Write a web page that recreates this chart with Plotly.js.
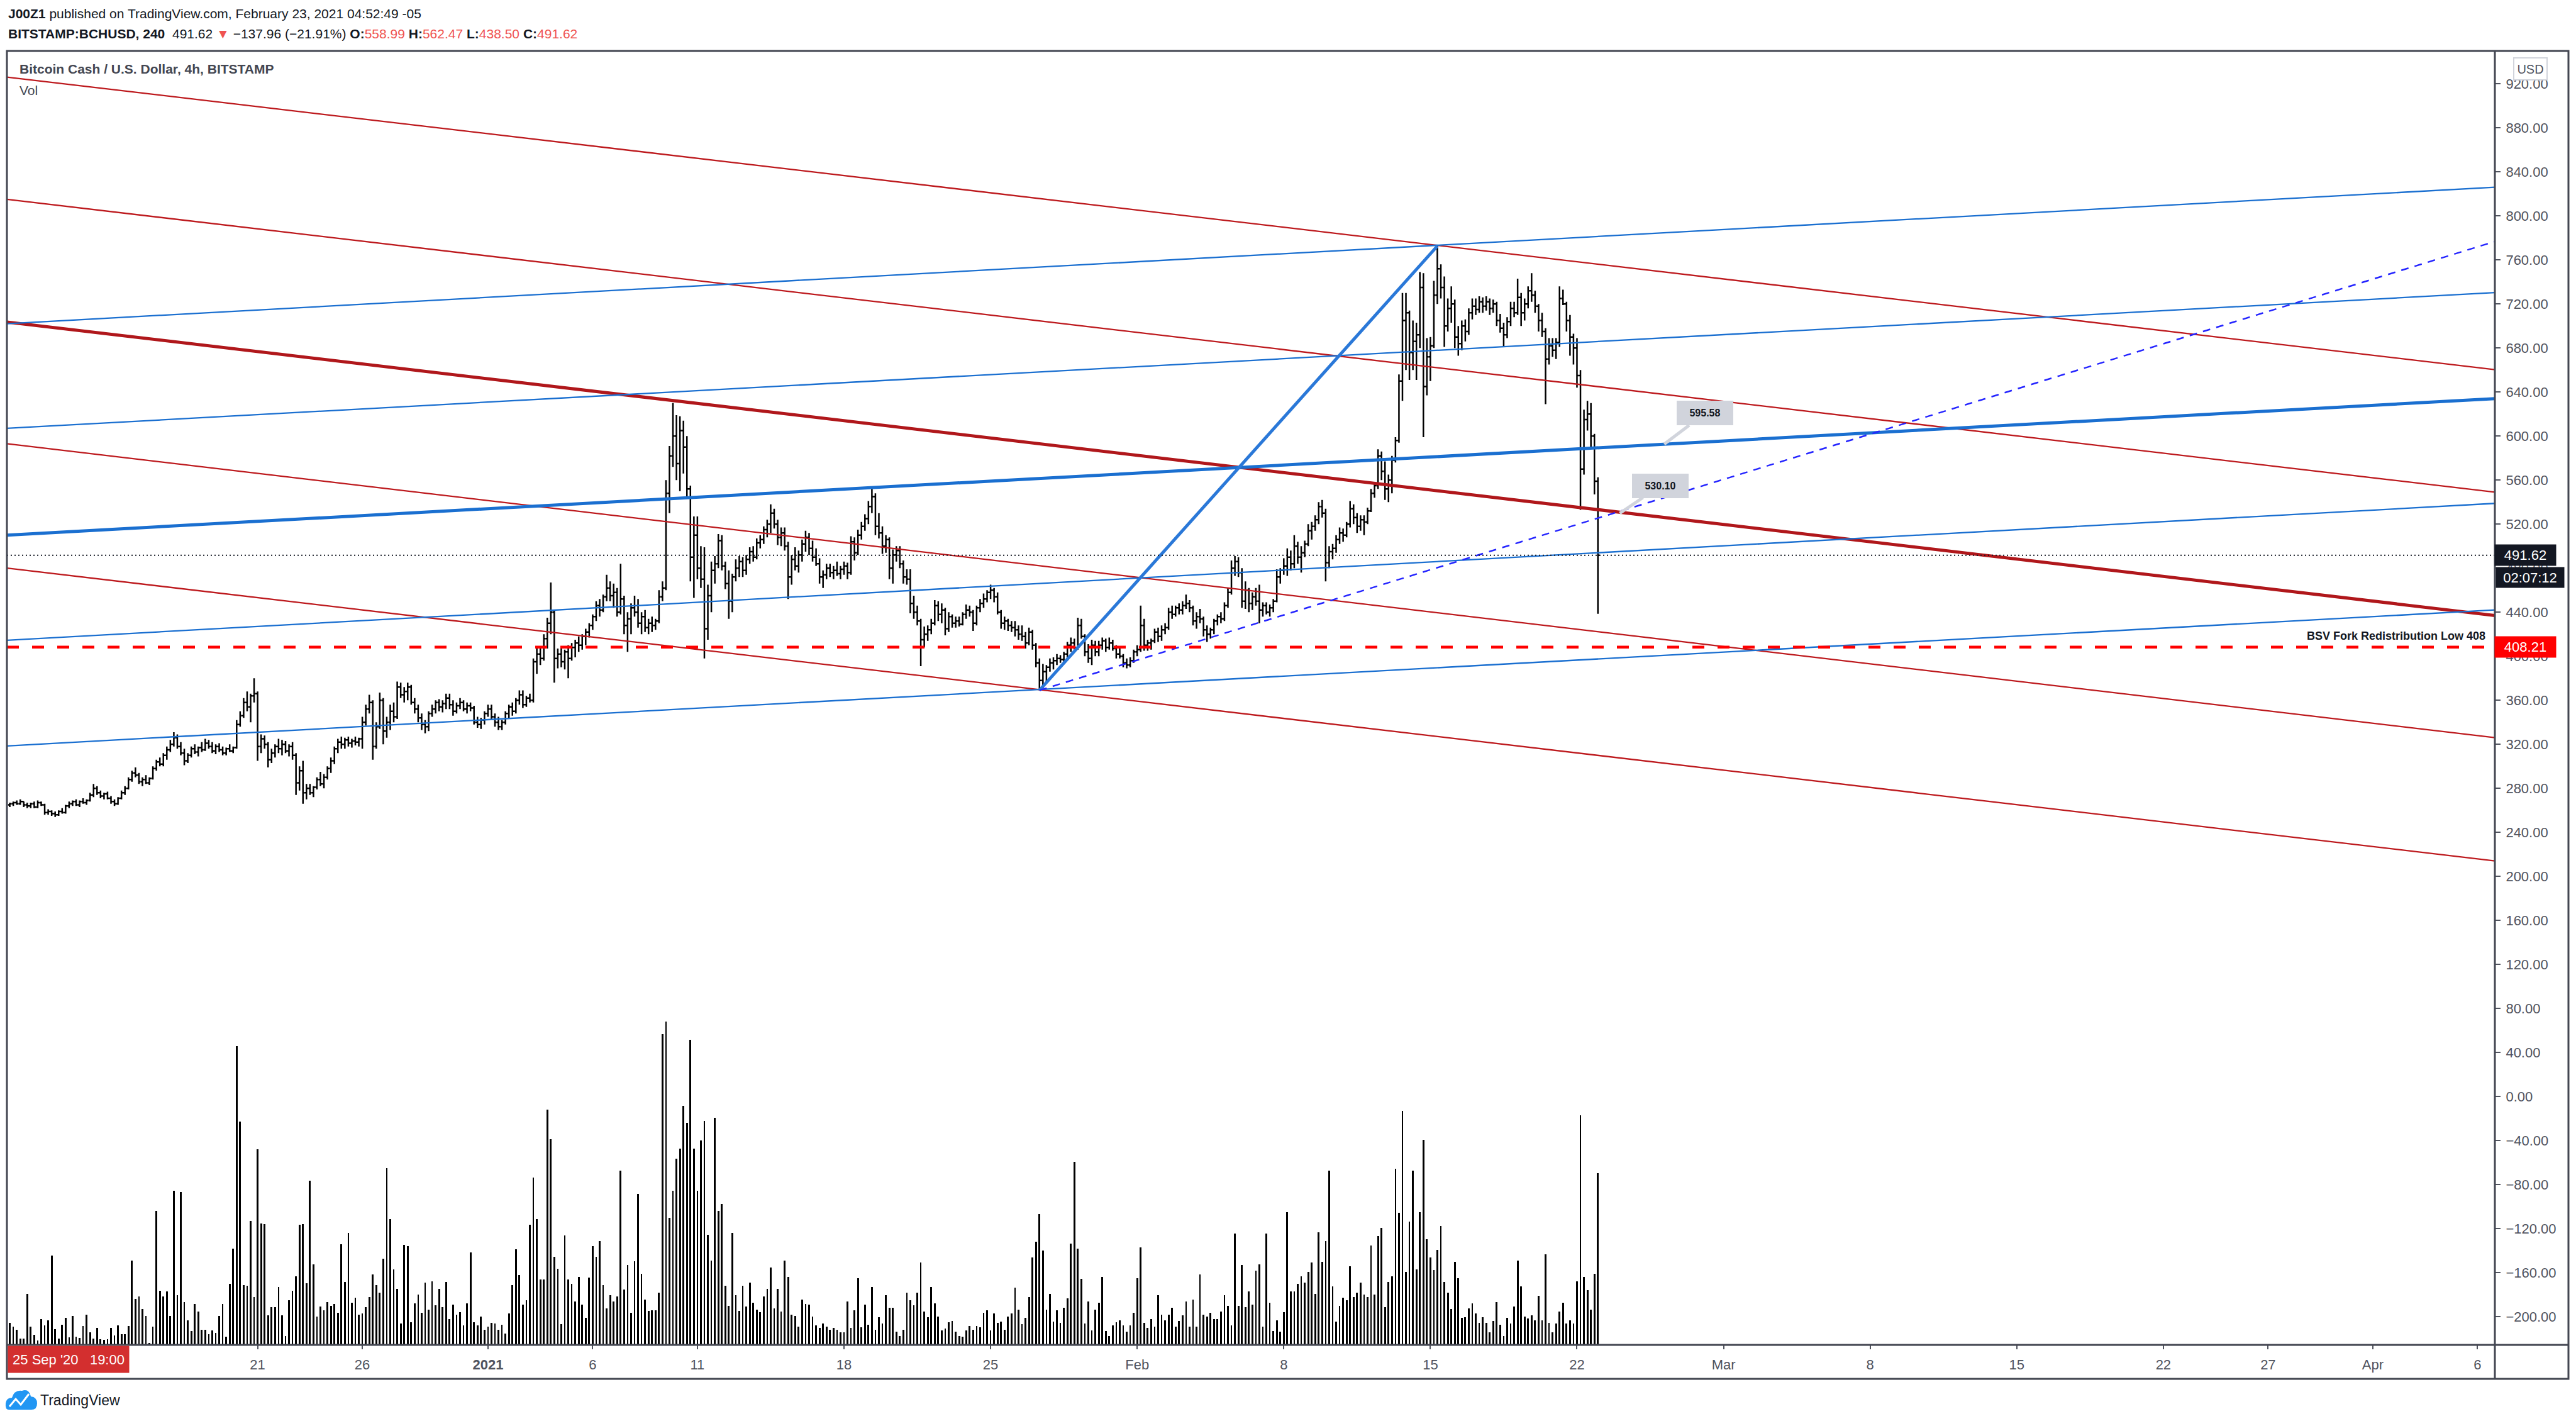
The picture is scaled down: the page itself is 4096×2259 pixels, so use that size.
<!DOCTYPE html>
<html><head><meta charset="utf-8">
<script src="https://cdn.plot.ly/plotly-3.0.1.min.js"></script>
<style>html,body{margin:0;padding:0;background:#fff;}#chart{width:4096px;height:2259px;}</style>
</head><body><div id="chart"></div>
<script>
// ---------- DATA ----------
const BAR_START = '2020-12-09T04:00:00Z';
const BAR_HOURS = 4;

const OPEN = [
265,266,267,266,268,265, 264,266,263,267,265,258, 259,257,256,259,258,264, 266,268,265,268,267,269,
274,280,276,273,275,271, 268,266,271,276,280,288, 294,292,286,288,285,289, 298,304,302,310,315,320,
326,318,312,305,310,316, 313,317,315,321,318,314, 318,315,312,316,314,317, 338,346,358,354,364,366,
318,325,320,306,312,318, 316,320,314,318,310,285, 296,276,280,276,281,288, 284,290,298,305,316,322,
320,324,321,323,322,325, 340,352,358,318,336,360, 332,340,350,345,372,365, 368,372,358,352,344,338,
336,348,352,358,354,357, 362,356,350,355,358,352, 355,353,340,338,342,348, 352,345,340,336,340,348,
354,350,360,365,356,362, 360,395,402,398,416,430, 440,398,402,395,404,398, 408,412,410,418,422,428,
436,446,442,454,462,455, 458,440,452,428,434,444, 440,430,436,426,430,428, 432,454,462,548,582,600,
575,605,590,552,490,510, 480,470,425,455,478,484, 505,482,466,450,472,480, 486,478,488,495,490,503,
506,515,520,530,520,508, 512,500,472,488,482,492, 502,508,498,490,484,472, 474,480,476,478,475,479,
482,476,504,494,510,518, 525,536,545,518,512,500, 506,480,492,496,484,472, 470,448,440,432,415,420,
424,430,446,438,442,425, 436,430,432,429,438,442, 440,430,444,448,452,458, 460,454,440,430,432,428,
426,424,420,418,412,422, 410,394,378,386,390,394, 396,398,397,402,410,412, 408,428,418,404,398,410,
404,410,414,408,412,407, 402,400,394,392,396,404, 406,428,410,412,414,422, 418,424,426,440,438,444,
442,446,448,444,432,436, 434,424,420,424,432,436, 434,446,458,480,486,476, 450,460,448,454,450,442,
446,440,444,450,472,478, 482,490,484,500,490,494, 502,514,518,524,536,530, 485,495,498,506,512,510,
520,534,526,518,524,522, 532,548,555,582,568,552, 560,578,596,650,705,712, 676,686,692,735,645,672,
682,728,752,735,700,716, 720,690,684,700,695,712, 718,715,722,718,722,716, 720,705,698,692,704,716,
712,726,712,720,732,728, 718,705,695,670,682,678, 685,725,720,705,690,680, 655,570,615,620,600,558.99
];
const HIGH = [
267,268,269,270,268,267, 267,268,269,268,266,261, 260,259,260,262,265,268, 269,270,269,271,270,276,
284,282,278,276,277,273, 270,272,278,282,290,296, 299,294,290,292,290,300, 306,308,312,318,324,331,
329,322,316,312,318,320, 318,322,325,324,322,320, 321,318,317,320,318,342, 350,362,368,366,380,368,
329,328,322,316,320,325, 324,323,320,322,312,300, 305,284,284,282,290,295, 293,300,308,318,325,327,
326,327,325,327,326,345, 356,365,360,340,367,362, 345,356,358,377,376,372, 376,374,362,356,348,342,
350,356,360,361,360,366, 366,360,358,362,360,358, 358,355,345,344,350,356, 356,348,345,342,350,356,
358,362,369,369,364,366, 398,407,409,420,435,467, 442,407,408,406,410,412, 415,418,420,425,430,438,
450,452,456,474,468,466, 462,484,455,440,448,455, 452,440,442,434,436,434, 460,468,560,591,630,619,
618,614,600,555,527,527, 500,499,465,486,491,511, 510,486,478,475,488,491, 490,492,499,500,507,510,
518,524,538,534,524,517, 517,504,492,499,496,506, 514,512,505,498,489,478, 484,484,482,486,482,486,
485,509,508,515,522,529, 541,552,548,530,518,510, 508,497,500,500,487,479, 479,455,446,434,427,428,
434,451,450,448,444,440, 438,436,436,440,447,446, 442,446,452,457,460,465, 462,458,442,436,434,432,
432,428,428,422,426,424, 412,398,393,392,398,399, 402,401,404,413,417,416, 435,434,420,411,415,414,
414,417,416,417,415,410, 408,402,398,399,406,410, 446,434,415,416,425,426, 428,430,444,446,446,448,
450,456,451,446,440,443, 436,428,426,434,438,440, 449,462,487,491,490,480, 468,462,458,462,465,449,
449,447,452,479,480,489, 498,496,510,504,500,505, 520,522,528,540,542,534, 500,502,510,517,516,522,
541,538,530,528,528,535, 552,558,588,586,577,565, 582,599,656,730,730,714, 705,703,749,748,689,690,
741,772.6,756,745,725,736, 724,700,705,706,716,725, 725,727,726,727,725,724, 722,711,703,708,722,722,
743,730,725,736,748,732, 720,712,698,689,689,689, 736,733,722,710,693,689, 660,624,632,630,602,562.47
];
const LOW = [
263,264,265,265,263,262, 262,262,262,264,256,256, 255,254,255,257,257,262, 264,264,263,266,265,268,
272,274,271,270,270,266, 264,265,270,274,279,286, 290,284,282,284,283,288, 296,300,300,306,313,318,
316,310,301,303,308,311, 309,313,314,316,312,311, 313,310,310,313,312,316, 336,344,350,340,358,305,
312,316,299,303,308,312, 310,312,309,306,274,278, 266,270,274,272,279,282, 280,288,294,302,312,316,
316,318,317,319,318,316, 337,348,306,316,334,320, 326,333,340,343,362,358, 360,356,348,340,333,330,
332,345,348,350,349,352, 352,346,348,352,350,348, 350,338,335,334,338,345, 342,336,333,333,338,344,
346,348,356,353,354,358, 358,384,392,396,407,420, 376,389,390,388,380,396, 399,404,406,410,417,424,
432,436,440,450,450,444, 436,438,420,404,420,436, 426,420,422,420,422,424, 430,450,460,530,572,560,
550,566,545,468,453,470, 462,398,415,440,466,480, 478,461,434,440,468,472, 472,474,484,486,488,498,
502,508,512,516,501,500, 496,452,465,478,476,486, 495,492,486,482,466,462, 470,472,470,473,470,474,
470,474,487,492,506,514, 520,530,510,507,493,494, 470,466,486,480,466,465, 439,434,428,391,408,414,
420,428,432,430,419,422, 426,426,427,428,434,436, 423,428,440,444,449,452, 449,438,425,424,423,422,
418,415,414,407,410,406, 390,369,371,376,386,388, 392,394,395,398,404,406, 406,416,400,394,392,400,
400,406,404,406,405,398, 398,390,389,390,394,400, 404,405,405,406,412,413, 414,420,424,434,436,438,
438,443,440,428,425,430, 418,413,416,420,428,430, 432,444,456,473,472,444, 443,440,442,446,430,436,
438,436,440,449,466,474, 473,478,480,484,476,490, 500,506,514,520,526,468, 480,488,494,502,504,508,
517,520,512,514,510,520, 531,544,552,560,542,540, 548,576,594,632,660,651, 660,651,680,599,637,650,
680,720,725,681,695,703, 680,673,678,686,692,706, 710,712,712,714,710,712, 700,694,681,689,700,708,
710,700,705,716,722,712, 695,690,629,665,672,670, 681,719,695,673,665,644, 533,565,605,590,547,438.5
];
const CLOSE = [
266,267,266,268,265,264, 266,263,267,265,258,259, 257,256,259,258,264,266, 268,265,268,267,269,274,
280,276,273,275,271,268, 266,271,276,280,288,294, 292,286,288,285,289,298, 304,302,310,315,320,326,
318,312,305,310,316,313, 317,315,321,318,314,318, 315,312,316,314,317,338, 346,358,354,364,366,318,
325,320,306,312,318,316, 320,314,318,310,285,296, 276,280,276,281,288,284, 290,298,305,316,322,320,
324,321,323,322,325,340, 352,358,318,336,360,332, 340,350,345,372,365,368, 372,358,352,344,338,336,
348,352,358,354,357,362, 356,350,355,358,352,355, 353,340,338,342,348,352, 345,340,336,340,348,354,
350,360,365,356,362,360, 395,402,398,416,430,440, 398,402,395,404,398,408, 412,410,418,422,428,436,
446,442,454,462,455,458, 440,452,428,434,444,440, 430,436,426,430,428,432, 454,462,548,582,600,575,
605,590,552,490,510,480, 470,425,455,478,484,505, 482,466,450,472,480,486, 478,488,495,490,503,506,
515,520,530,520,508,512, 500,472,488,482,492,502, 508,498,490,484,472,474, 480,476,478,475,479,482,
476,504,494,510,518,525, 536,545,518,512,500,506, 480,492,496,484,472,470, 448,440,432,415,420,424,
430,446,438,442,425,436, 430,432,429,438,442,440, 430,444,448,452,458,460, 454,440,430,432,428,426,
424,420,418,412,422,410, 394,378,386,390,394,396, 398,397,402,410,412,408, 428,418,404,398,410,404,
410,414,408,412,407,402, 400,394,392,396,404,406, 428,410,412,414,422,418, 424,426,440,438,444,442,
446,448,444,432,436,434, 424,420,424,432,436,434, 446,458,480,486,476,450, 460,448,454,450,442,446,
440,444,450,472,478,482, 490,484,500,490,494,502, 514,518,524,536,530,485, 495,498,506,512,510,520,
534,526,518,524,522,532, 548,555,582,568,552,560, 578,596,650,705,712,676, 686,692,735,645,672,682,
728,752,735,700,716,720, 690,684,700,695,712,718, 715,722,718,722,716,720, 705,698,692,704,716,712,
726,712,720,732,728,718, 705,695,670,682,678,685, 725,720,705,690,680,655, 570,615,620,600,558.99,491.62
];
const VOLUME = [
83,68,58,23,23,193, 68,38,16,98,73,93, 338,60,23,76,102,28, 110,30,26,72,115,48,
23,65,22,20,22,63, 35,73,41,41,72,318, 174,182,135,110,8,70, 505,205,184,203,110,583,
188,578,161,93,52,155, 126,58,58,41,55,45, 110,155,32,231,363,1128, 843,226,223,468,181,738,
458,456,112,143,142,218, 112,33,168,205,260,453, 456,233,620,305,106,145, 130,161,148,154,120,380,
238,422,160,178,113,118, 143,181,265,226,198,326, 668,475,285,212,80,378, 372,86,156,191,120,236,
132,241,150,212,143,238, 98,153,115,123,73,156, 350,86,73,108,58,68, 83,81,58,76,42,118,
225,362,263,153,168,453, 633,475,246,246,888,776, 332,288,78,413,248,231, 163,256,153,103,253,372,
333,391,225,138,188,163, 183,658,208,301,120,315, 570,268,170,128,130,130, 196,1173,1221,481,583,702,
742,902,838,1153,742,581, 771,846,416,318,857,505, 531,223,148,423,188,128, 223,145,236,160,132,123,
183,212,291,138,212,125, 318,256,114,110,70,172, 155,152,108,73,
65,80,68,56,63,56, 48,48,163,63,130,251, 66,152,75,219,56,105, 81,188,141,141,49,33,
56,198,168,150,198,311, 126,105,219,156,106,55, 62,86,91,49,33,30, 55,71,56,71,66,120,
130,55,119,82,88,56, 108,119,215,133,78,103, 181,331,389,493,357,132, 193,88,130,83,141,176,
383,692,363,250,80,163, 55,133,160,256,53,33, 73,85,93,74,50,74, 120,252,367,83,63,98,
68,188,115,93,115,141, 70,91,111,165,70,170, 70,265,115,106,120,98, 98,126,188,148,73,420,
148,301,143,203,153,280, 303,68,420,158,53,93, 50,123,501,203,203,231, 258,235,275,311,193,426,
313,393,658,222,88,148, 178,168,298,181,198,235, 191,181,376,191,412,441, 143,237,258,666,498,883,
276,466,658,286,501,775, 400,331,283,358,448,238, 198,135,313,251,103,105, 138,156,118,82,105,82,
48,90,161,76,33,103, 81,145,318,220,106,100, 112,93,186,93,341,83, 48,80,125,158,81,93,
80,241,868,256,207,133, 269,649
];

const PRICE_TICKS = [920,880,840,800,760,720,680,640,600,560,520,480,440,400,360,320,280,240,200,160,120,80,40,0,-40,-80,-120,-160,-200];
const DATE_TICKS = ['2020-12-21','2020-12-26','2021-01-01','2021-01-06','2021-01-11','2021-01-18','2021-01-25','2021-02-01','2021-02-08','2021-02-15','2021-02-22','2021-03-01','2021-03-08','2021-03-15','2021-03-22','2021-03-27','2021-04-01','2021-04-06'];
const DATE_LABELS = ['21','26','<b>2021</b>','6','11','18','25','Feb','8','15','22','Mar','8','15','22','27','Apr','6'];

// drawings (user trend lines), price values at the chart's left / right edge dates
const LINE_X = ['2020-12-09 00:43', '2021-04-06 19:55'];
const RED_LEFT  = [926, 815, 703.6, 593, 480];
const RED_RIGHT = [660.3, 549, 437, 326, 214];
const BLUE_LEFT  = [702, 607, 510, 414.5, 318.5];
const BLUE_RIGHT = [826, 730.3, 634, 538.8, 442];
const RALLY_X = ['2021-01-27 08:00', '2021-02-15 08:00'];
const RALLY_Y = [369, 772.6];
const DASH_X = ['2021-01-27 08:00', '2021-04-06 19:55'];
const DASH_Y = [369, 776.7];
const BSV_LEVEL = 408.21;
const LAST_PRICE = 491.62;
const CALLOUT_X = ['2021-02-26 04:00', '2021-02-24 01:00'];
const CALLOUT_Y = [592.7, 529.8];
const CALLOUT_TEXT = ['595.58', '530.10'];

// ---------- LAYOUT HELPERS (pixel -> paper) ----------
const PL = 11, PR = 3967, PT = 81, PB = 2138;
function X(p){ return (p - PL) / (PR - PL); }
function Y(p){ return (PB - p) / (PB - PT); }
function P(x, y){ return X(x) + ',' + Y(y); }

const times = OPEN.map((_, i) => new Date(Date.parse(BAR_START) + i * BAR_HOURS * 3600e3).toISOString().slice(0, 16).replace('T', ' '));

const FONT = 'Liberation Sans, Arial, sans-serif';
const AX = '#50535e';
const RED = '#ef5350';
const LINE_RED = '#bd1a1e', LINE_RED_THICK = '#b0171b', LINE_BLUE = '#1a6fd0';

const traces = [
  { type: 'bar', x: times, y: VOLUME, yaxis: 'y2', marker: { color: '#000000', line: { width: 0 } },
    width: BAR_HOURS * 3600e3 * 0.5, hoverinfo: 'skip' },
  { type: 'ohlc', x: times, open: OPEN, high: HIGH, low: LOW, close: CLOSE, tickwidth: 0.5,
    increasing: { line: { color: '#000000', width: 2.5 } }, decreasing: { line: { color: '#000000', width: 2.5 } },
    hoverinfo: 'skip' }
];

const shapes = [];
RED_LEFT.forEach((v, i) => shapes.push({ type: 'line', xref: 'x', yref: 'y', x0: LINE_X[0], x1: LINE_X[1], y0: v, y1: RED_RIGHT[i],
  line: { color: i === 2 ? LINE_RED_THICK : LINE_RED, width: i === 2 ? 5 : 2.3 }, layer: 'above' }));
BLUE_LEFT.forEach((v, i) => shapes.push({ type: 'line', xref: 'x', yref: 'y', x0: LINE_X[0], x1: LINE_X[1], y0: v, y1: BLUE_RIGHT[i],
  line: { color: LINE_BLUE, width: i === 2 ? 5 : 2.3 }, layer: 'above' }));
shapes.push({ type: 'line', xref: 'x', yref: 'y', x0: RALLY_X[0], x1: RALLY_X[1], y0: RALLY_Y[0], y1: RALLY_Y[1], line: { color: '#2a78d8', width: 5 }, layer: 'above' });
shapes.push({ type: 'line', xref: 'x', yref: 'y', x0: DASH_X[0], x1: DASH_X[1], y0: DASH_Y[0], y1: DASH_Y[1], line: { color: '#2424ff', width: 2.5, dash: '12px,10px' }, layer: 'above' });
shapes.push({ type: 'line', xref: 'x', yref: 'y', x0: LINE_X[0], x1: LINE_X[1], y0: BSV_LEVEL, y1: BSV_LEVEL, line: { color: '#ff0000', width: 4.5, dash: '19px,21px' }, layer: 'above' });
shapes.push({ type: 'line', xref: 'x', yref: 'y', x0: LINE_X[0], x1: LINE_X[1], y0: LAST_PRICE, y1: LAST_PRICE, line: { color: '#131722', width: 2, dash: '2px,4px' }, layer: 'above' });
// frame
shapes.push({ type: 'rect', xref: 'paper', yref: 'paper', x0: X(PL), x1: X(4084), y0: Y(2192), y1: Y(PT), line: { color: '#434651', width: 3 }, layer: 'above' });
shapes.push({ type: 'line', xref: 'paper', yref: 'paper', x0: X(PL), x1: X(4084), y0: Y(PB), y1: Y(PB), line: { color: '#434651', width: 3 }, layer: 'above' });
shapes.push({ type: 'line', xref: 'paper', yref: 'paper', x0: X(PR), x1: X(PR), y0: Y(2192), y1: Y(PT), line: { color: '#434651', width: 3 }, layer: 'above' });
// TradingView logo
shapes.push({ type: 'path', xref: 'paper', yref: 'paper', fillcolor: '#2196f3', line: { width: 0 },
  path: `M ${P(14,2241)} Q ${P(8,2241)} ${P(9,2231)} Q ${P(10,2222)} ${P(19,2222)} Q ${P(23,2209)} ${P(35,2211)} Q ${P(46,2207)} ${P(49,2220)} Q ${P(59,2221)} ${P(59,2231)} Q ${P(59,2241)} ${P(50,2241)} Z` });
shapes.push({ type: 'path', xref: 'paper', yref: 'paper', line: { color: '#ffffff', width: 3 },
  path: `M ${P(15,2236)} L ${P(25,2224)} L ${P(33,2233)} L ${P(46,2216)}` });

const ann = [];
function txt(x, y, text, opts) { ann.push(Object.assign({ xref: 'paper', yref: 'paper', x: X(x), y: Y(y), text: text, showarrow: false,
  xanchor: 'left', yanchor: 'middle', font: { family: FONT, size: 21, color: '#131722' } }, opts || {})); }

txt(11, 22, '<b>J00Z1</b> published on TradingView.com, February 23, 2021 04:52:49 -05');
txt(11, 53, '<b>BITSTAMP:BCHUSD, 240</b>  491.62 <span style="color:' + RED + '">▼</span> −137.96 (−21.91%) <b>O:</b><span style="color:' + RED + '">558.99</span> <b>H:</b><span style="color:' + RED + '">562.47</span> <b>L:</b><span style="color:' + RED + '">438.50</span> <b>C:</b><span style="color:' + RED + '">491.62</span>');
txt(29, 110, '<b>Bitcoin Cash / U.S. Dollar, 4h, BITSTAMP</b>', { font: { family: FONT, size: 21, color: '#434651' } });
txt(29, 143, 'Vol', { font: { family: FONT, size: 21, color: '#434651' } });
txt(62, 2226, 'TradingView', { font: { family: FONT, size: 23, color: '#131722' } });
txt(12, 2161, '25 Sep \'20\u00a0\u00a0\u00a019:00', { bgcolor: '#d32f2f', width: 186, height: 36, borderpad: 3, align: 'center',
  font: { family: FONT, size: 22, color: '#ffffff' } });
// right scale labels
txt(4024, 110, 'USD', { xanchor: 'center', bgcolor: '#ffffff', bordercolor: '#d1d4dc', borderwidth: 2, borderpad: 3, width: 45, height: 27,
  font: { family: FONT, size: 20, color: AX } });
ann.push({ xref: 'paper', yref: 'y', x: X(3966), y: LAST_PRICE, text: '491.62', showarrow: false, xanchor: 'left', yanchor: 'middle',
  bgcolor: '#131722', width: 93, height: 29, borderpad: 2, font: { family: FONT, size: 22, color: '#ffffff' } });
txt(3968, 918, '02:07:12', { bgcolor: '#131722', width: 104, height: 28, borderpad: 2, font: { family: FONT, size: 22, color: '#ffffff' } });
ann.push({ xref: 'paper', yref: 'y', x: X(3966), y: BSV_LEVEL, text: '408.21', showarrow: false, xanchor: 'left', yanchor: 'middle',
  bgcolor: '#ff0000', width: 93, height: 29, borderpad: 2, font: { family: FONT, size: 22, color: '#ffffff' } });
ann.push({ xref: 'paper', yref: 'y', x: X(3954), y: BSV_LEVEL, yshift: 6, text: '<b>BSV Fork Redistribution Low 408</b>', showarrow: false,
  xanchor: 'right', yanchor: 'bottom', font: { family: FONT, size: 18, color: '#131722' } });
CALLOUT_X.forEach((cx, i) => ann.push({ xref: 'x', yref: 'y', x: cx, y: CALLOUT_Y[i], text: '<b>' + CALLOUT_TEXT[i] + '</b>', showarrow: true,
  ax: 65, ay: i === 0 ? -49 : -44, arrowhead: 0, arrowwidth: 5, arrowcolor: '#d1d4dc', standoff: 0,
  bgcolor: '#d1d4dc', bordercolor: '#d1d4dc', borderpad: 5, width: 78, height: 27, font: { family: FONT, size: 16, color: '#131722' } }));

const layout = {
  width: 4096, height: 2259, margin: { l: PL, r: 4096 - PR, t: PT, b: 2259 - PB, pad: 0 },
  paper_bgcolor: '#ffffff', plot_bgcolor: '#ffffff', showlegend: false, font: { family: FONT, color: AX },
  xaxis: { type: 'date', range: LINE_X, tickvals: DATE_TICKS, ticktext: DATE_LABELS, ticks: 'outside', ticklen: 6, tickwidth: 2,
    tickcolor: AX, showgrid: false, zeroline: false, showline: false, rangeslider: { visible: false },
    tickfont: { family: FONT, size: 22, color: AX }, ticklabelstandoff: 6, fixedrange: true },
  yaxis: { side: 'right', range: [-225.6, 949.8], tickvals: PRICE_TICKS, tickformat: '.2f', ticks: 'outside', ticklen: 8, tickwidth: 2,
    tickcolor: AX, showgrid: false, zeroline: false, showline: false, tickfont: { family: FONT, size: 22, color: AX }, ticklabelstandoff: 4, fixedrange: true },
  yaxis2: { overlaying: 'y', range: [0, 4886], visible: false, fixedrange: true },
  shapes: shapes, annotations: ann, bargap: 0
};
Plotly.newPlot('chart', traces, layout, { staticPlot: true, displayModeBar: false });
</script></body></html>
